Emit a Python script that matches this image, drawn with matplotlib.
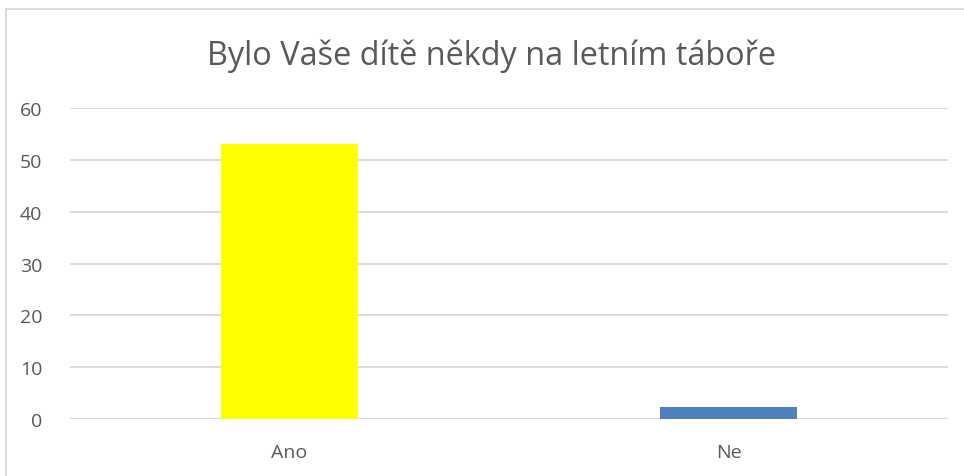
import matplotlib.pyplot as plt
from matplotlib.lines import Line2D

# data
categories = ["Ano", "Ne"]
values = [53, 2.4]
bar_colors = ["#FFFF00", "#4F81BD"]
yticks = [0, 10, 20, 30, 40, 50, 60]
title = "Bylo Vaše dítě někdy na letním táboře"

plt.rcParams["font.family"] = ["Open Sans", "DejaVu Sans"]
text_grey = "#595959"
grid_grey = "#D9D9D9"

fig = plt.figure(figsize=(9.64, 4.77), dpi=100)
# axes: x 70..948 px, y 109..420 px (from top)
W, H = 964, 477
ax = fig.add_axes([70 / W, (H - 420) / H, (948 - 70) / W, (420 - 109) / H])

x = list(range(len(categories)))
ax.bar(x, values, width=0.314, color=bar_colors, zorder=3)
ax.set_xlim(-0.5, len(categories) - 0.5)
ax.set_ylim(0, 60)
ax.set_yticks(yticks)
ax.set_xticks(x)
ax.set_xticklabels(categories)

ax.grid(axis="y", color=grid_grey, linewidth=1.3, zorder=0)
for s in ax.spines.values():
    s.set_visible(False)
ax.axhline(0, color=grid_grey, linewidth=1.5, zorder=2)
ax.tick_params(axis="both", length=0, labelsize=14, colors=text_grey)
ax.tick_params(axis="y", pad=20)
ax.tick_params(axis="x", pad=17)

fig.text(492 / W, 1 - 56 / H, title, ha="center", va="center",
         fontsize=23.4, color=text_grey)

# chart border (left and top visible)
fig.add_artist(Line2D([6 / W, 6 / W], [0, 1 - 10 / H], transform=fig.transFigure,
                      color=grid_grey, linewidth=1.3))
fig.add_artist(Line2D([6 / W, 1], [1 - 10 / H, 1 - 10 / H], transform=fig.transFigure,
                      color=grid_grey, linewidth=1.3))

fig.savefig("out.png", dpi=100)
